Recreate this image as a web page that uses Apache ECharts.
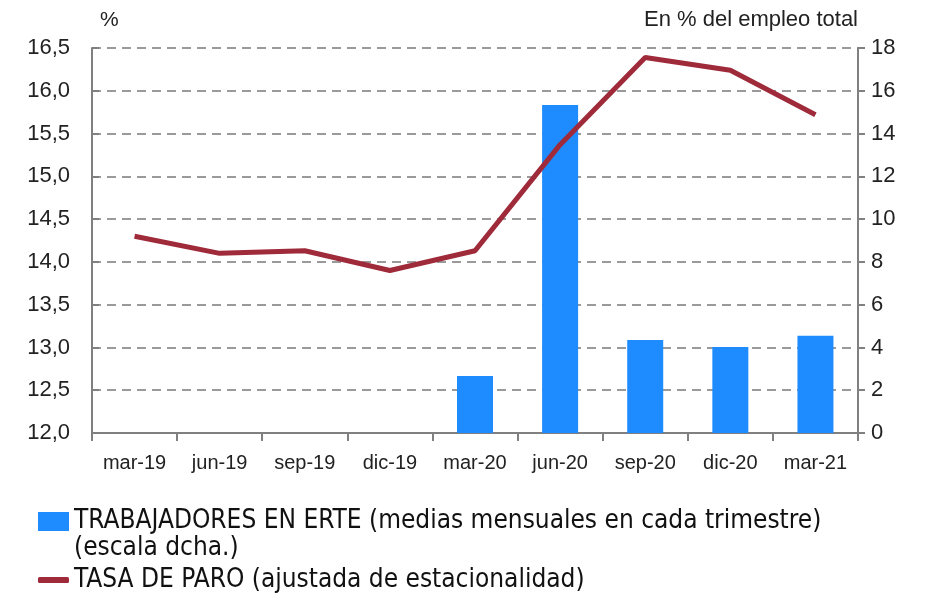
<!DOCTYPE html>
<html>
<head>
<meta charset="utf-8">
<script src="https://cdn.jsdelivr.net/npm/echarts@6/dist/echarts.min.js"></script>
<style>html,body{margin:0;padding:0;background:#fff}#chart{width:926px;height:593px}</style>
</head>
<body>
<div id="chart"></div>
<script>
const categories = ['mar-19','jun-19','sep-19','dic-19','mar-20','jun-20','sep-20','dic-20','mar-21'];
const erteValues = [null, null, null, null, 2.66, 15.33, 4.35, 4.02, 4.55];
const paroValues = [14.30, 14.10, 14.13, 13.90, 14.13, 15.37, 16.39, 16.24, 15.72];
const erteName = 'TRABAJADORES EN ERTE (medias mensuales en cada trimestre)\n(escala dcha.)';
const paroName = 'TASA DE PARO (ajustada de estacionalidad)';

const axisColor = '#808080';
const font = 'Liberation Sans, Helvetica, Arial, sans-serif';
const narrow = 'Liberation Sans Narrow, DejaVu Sans Condensed, sans-serif';
const myChart = echarts.init(document.getElementById('chart'));

myChart.setOption({
    backgroundColor: '#ffffff',
    animation: false,
    textStyle: {fontFamily: font},
    grid: {left: 92, right: 68, top: 48, bottom: 160},
    legend: [{
        // empty first line keeps the icon level with the first text line
        data: [erteName], left: 38, top: 481, padding: 0, itemWidth: 31, itemHeight: 19, itemGap: 0,
        icon: 'rect', selectedMode: false, formatter: n => '\n' + n,
        textStyle: {fontFamily: narrow, fontSize: 26, color: '#111', lineHeight: 27}
    }, {
        data: [{name: paroName, icon: 'roundRect'}], left: 38, top: 565, padding: 0, itemWidth: 31, itemHeight: 6, itemGap: 0,
        selectedMode: false,
        itemStyle: {color: '#9e2a3a'},
        textStyle: {fontFamily: narrow, fontSize: 26, color: '#111', lineHeight: 30, padding: 0}
    }],
    xAxis: {
        type: 'category', data: categories, boundaryGap: true,
        axisLine: {lineStyle: {color: axisColor, width: 2}},
        axisTick: {show: true, length: 8, lineStyle: {color: axisColor, width: 2}},
        axisLabel: {color: '#222', fontSize: 20, margin: 20, interval: 0}
    },
    yAxis: [{
        type: 'value', min: 12, max: 16.5, interval: 0.5, position: 'left',
        name: '%', nameLocation: 'end', nameGap: 17,
        nameTextStyle: {color: '#222', fontSize: 21, align: 'left', padding: [0, 0, 0, 8]},
        axisLine: {show: true, lineStyle: {color: axisColor, width: 2}},
        axisTick: {show: true, inside: true, length: 7, lineStyle: {color: axisColor, width: 2}},
        axisLabel: {color: '#222', fontSize: 22, margin: 22, formatter: v => v.toFixed(1).replace('.', ',')},
        splitLine: {lineStyle: {color: '#9a9a9a', width: 2, type: [9, 6]}}
    }, {
        type: 'value', min: 0, max: 18, interval: 2, position: 'right',
        name: 'En % del empleo total', nameLocation: 'end', nameGap: 17,
        nameTextStyle: {color: '#222', fontSize: 22, align: 'right'},
        axisLine: {show: true, lineStyle: {color: axisColor, width: 2}},
        axisTick: {show: true, length: 7, lineStyle: {color: axisColor, width: 2}},
        axisLabel: {color: '#222', fontSize: 22, margin: 13},
        splitLine: {show: false}
    }],
    series: [{
        name: erteName, type: 'bar', yAxisIndex: 1, data: erteValues,
        barWidth: 36, itemStyle: {color: '#1e8cff'}, z: 2
    }, {
        name: paroName, type: 'line', yAxisIndex: 0, data: paroValues,
        symbol: 'none', lineStyle: {color: '#9e2a3a', width: 5}, itemStyle: {color: '#9e2a3a'}, z: 3
    }]
});
</script>
</body>
</html>
